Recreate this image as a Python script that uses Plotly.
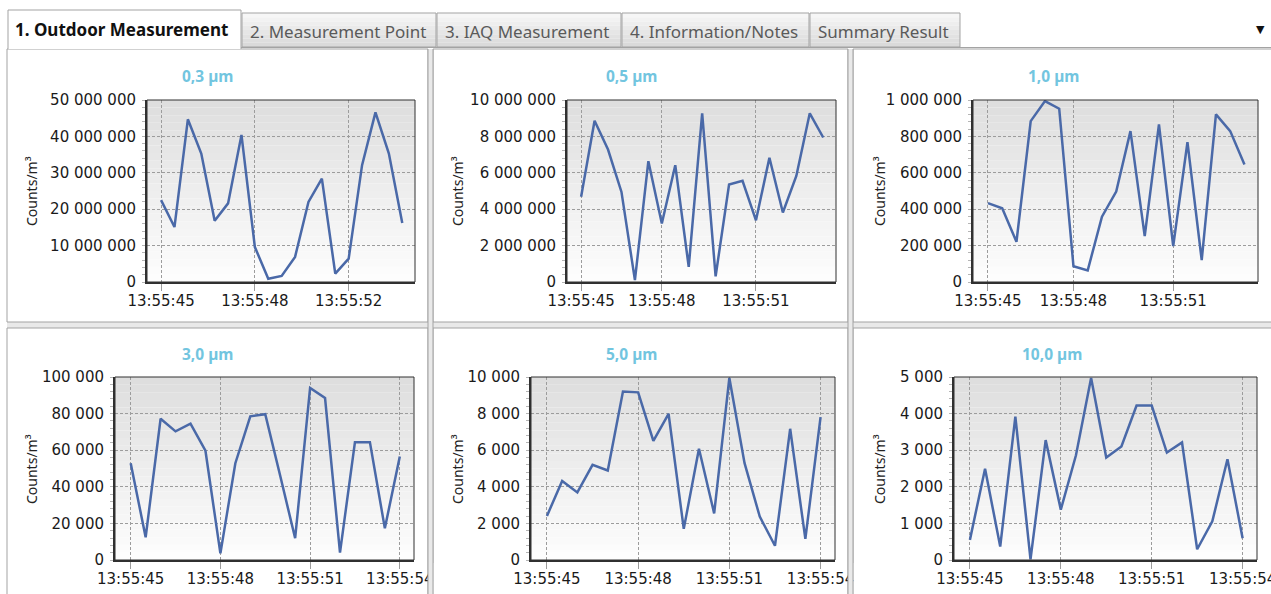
import plotly.graph_objects as go

W, H = 1271, 594

# ---------------- data ----------------
tab_labels = ["1. Outdoor Measurement", "2. Measurement Point", "3. IAQ Measurement",
              "4. Information/Notes", "Summary Result"]
panel_titles = ["0,3 µm", "0,5 µm", "1,0 µm", "3,0 µm", "5,0 µm", "10,0 µm"]
y_title = "Counts/m³"

sample_index = list(range(19))

counts_0_3 = [22500000, 15100000, 44700000, 35300000, 16800000, 21600000, 40400000,
              9600000, 900000, 1650000, 6900000, 22000000, 28400000, 2300000,
              6400000, 32100000, 46600000, 35300000, 16200000]
counts_0_5 = [4680000, 8860000, 7280000, 4950000, 100000, 6640000, 3210000,
              6420000, 830000, 9270000, 310000, 5360000, 5560000, 3390000,
              6830000, 3820000, 5830000, 9270000, 7940000]
counts_1_0 = [433000, 405000, 221000, 884000, 994000, 952000, 87000, 64000,
              359000, 497000, 829000, 252000, 866000, 197000, 768000, 120000,
              921000, 829000, 645000]
counts_3_0 = [52900, 12400, 77200, 70300, 74500, 59700, 3600, 52900, 78500,
              79700, 46000, 11900, 94000, 88500, 4000, 64400, 64400, 17300, 56600]
counts_5_0 = [2410, 4320, 3690, 5200, 4890, 9210, 9160, 6510, 7990, 1700, 6080,
              2550, 9950, 5290, 2370, 780, 7170, 1150, 7810]
counts_10_0 = [550, 2495, 367, 3917, 18, 3275, 1376, 2862, 4972, 2798, 3101,
               4220, 4220, 2936, 3211, 294, 1055, 2752, 596]

y_max = [50000000, 10000000, 1000000, 100000, 10000, 5000]
y_step = [10000000, 2000000, 200000, 20000, 2000, 1000]

tick_idx_1 = [0, 7, 14]
tick_txt_1 = ["13:55:45", "13:55:48", "13:55:52"]
tick_idx_23 = [0, 6, 13]
tick_txt_23 = ["13:55:45", "13:55:48", "13:55:51"]
tick_idx_bot = [0, 6, 12, 18]
tick_txt_bot = ["13:55:45", "13:55:48", "13:55:51", "13:55:54"]

series = [counts_0_3, counts_0_5, counts_1_0, counts_3_0, counts_5_0, counts_10_0]
tick_idx = [tick_idx_1, tick_idx_23, tick_idx_23, tick_idx_bot, tick_idx_bot, tick_idx_bot]
tick_txt = [tick_txt_1, tick_txt_23, tick_txt_23, tick_txt_bot, tick_txt_bot, tick_txt_bot]

# ---------------- layout geometry (pixels) ----------------
plot_boxes = [(147, 100, 415, 282), (567, 100, 836, 282), (973, 100, 1258, 282),
              (115, 377, 414, 560), (531, 377, 835, 560), (954, 377, 1257, 560)]
title_pos = [(207, 76), (631, 76), (1053, 76), (207, 354), (631, 354), (1052, 354)]
ytitle_pos = [(31, 191), (457, 191), (879, 191), (31, 469), (457, 469), (879, 469)]
panel_boxes = [(7, 49, 428, 322), (433, 49, 848, 322), (853, 49, 1275, 322),
               (7, 328, 428, 600), (433, 328, 848, 600), (853, 328, 1275, 600)]
tab_boxes = [(8, 10, 241, 48), (242, 13, 436, 47), (437, 13, 621, 47),
             (622, 13, 809, 47), (810, 13, 960, 47)]


def px(x):
    return x / W


def py(y):
    return 1 - y / H


BORDER = "#a3a3a3"
GAP = "#e9e9e9"
LINE = "#4a69a8"

fig = go.Figure()
shapes = []
annotations = []

# container & panels
shapes.append(dict(type="rect", xref="paper", yref="paper", layer="below",
                   x0=px(7), x1=px(1275), y0=py(49), y1=py(600),
                   fillcolor=GAP, line=dict(width=0)))
for (x0, y0, x1, y1) in panel_boxes:
    shapes.append(dict(type="rect", xref="paper", yref="paper", layer="below",
                       x0=px(x0), x1=px(x1), y0=py(y0), y1=py(y1),
                       fillcolor="white", line=dict(color=BORDER, width=1)))


def lerp(c0, c1, t):
    return "rgb(%d,%d,%d)" % tuple(round(a + (b - a) * t) for a, b in zip(c0, c1))


# tabs
for i, (x0, y0, x1, y1) in enumerate(tab_boxes):
    if i == 0:
        shapes.append(dict(type="rect", xref="paper", yref="paper", layer="below",
                           x0=px(x0), x1=px(x1), y0=py(y0), y1=py(y1 + 1),
                           fillcolor="white", line=dict(width=0)))
        shapes.append(dict(type="path", xref="paper", yref="paper", layer="below",
                           path=f"M {px(x0)},{py(y1+1)} L {px(x0)},{py(y0)} L {px(x1)},{py(y0)} L {px(x1)},{py(y1+1)}",
                           line=dict(color=BORDER, width=1)))
        annotations.append(dict(x=px(x0 + 5), y=py((y0 + y1) / 2 + 1), xref="paper", yref="paper",
                                xanchor="left", yanchor="middle", showarrow=False,
                                text="<b>" + tab_labels[i] + "</b>",
                                font=dict(family="Noto Sans", size=17, color="#111111")))
    else:
        n = 8
        for k in range(n):
            ya = y0 + (y1 - y0) * k / n
            yb = y0 + (y1 - y0) * (k + 1) / n
            shapes.append(dict(type="rect", xref="paper", yref="paper", layer="below",
                               x0=px(x0), x1=px(x1), y0=py(ya), y1=py(yb),
                               fillcolor=lerp((246, 246, 246), (218, 218, 218), k / (n - 1)),
                               line=dict(width=0)))
        shapes.append(dict(type="rect", xref="paper", yref="paper", layer="below",
                           x0=px(x0), x1=px(x1), y0=py(y0), y1=py(y1),
                           line=dict(color=BORDER, width=1)))
        annotations.append(dict(x=px(x0 + 6), y=py((y0 + y1) / 2 + 1), xref="paper", yref="paper",
                                xanchor="left", yanchor="middle", showarrow=False,
                                text=tab_labels[i],
                                font=dict(family="Noto Sans", size=17, color="#5a5a5a")))
shapes.append(dict(type="line", xref="paper", yref="paper", layer="below",
                   x0=px(241), x1=px(1275), y0=py(47.5), y1=py(47.5),
                   line=dict(color=BORDER, width=1)))
annotations.append(dict(x=px(1260), y=py(30), xref="paper", yref="paper",
                        xanchor="center", yanchor="middle",
                        showarrow=False, text="▼",
                        font=dict(family="DejaVu Sans", size=11, color="#111111")))

# subplots
for i in range(6):
    n = i + 1
    xa = "x" if n == 1 else f"x{n}"
    ya = "y" if n == 1 else f"y{n}"
    x0, y0, x1, y1 = plot_boxes[i]
    fig.add_trace(go.Scatter(x=sample_index, y=series[i], mode="lines",
                             line=dict(color=LINE, width=2.5),
                             xaxis=xa, yaxis=ya, hoverinfo="skip"))
    tickfont = dict(family="DejaVu Sans", size=15, color="#1a1a1a")
    fig.layout[f"xaxis{'' if n == 1 else n}"] = dict(
        domain=[px(x0), px(x1)], anchor=ya, range=[-1.05, 18.95],
        tickmode="array", tickvals=tick_idx[i], ticktext=tick_txt[i],
        showgrid=True, gridcolor="#9c9c9c", gridwidth=1, griddash="3px,2px",
        ticks="outside", ticklen=7, tickcolor="#9c9c9c", tickwidth=1,
        ticklabelstandoff=-3, ticklabeloverflow="allow",
        showline=True, linecolor="#303030", linewidth=2, zeroline=False,
        tickfont=tickfont, fixedrange=True, automargin=False)
    fig.layout[f"yaxis{'' if n == 1 else n}"] = dict(
        domain=[py(y1), py(y0)], anchor=xa, range=[0, y_max[i]],
        tick0=0, dtick=y_step[i], tickformat=",",
        showgrid=True, gridcolor="#9c9c9c", gridwidth=1, griddash="3px,2px",
        ticks="outside", ticklen=3, tickcolor="#b5b5b5",
        minor=dict(ticks="outside", ticklen=3, tickcolor="#b5b5b5",
                   dtick=y_step[i] / 5, showgrid=False),
        ticklabelstandoff=3,
        showline=True, linecolor="#303030", linewidth=2, zeroline=False,
        tickfont=tickfont, fixedrange=True, automargin=False)
    # gradient background
    ns = 24
    for k in range(ns):
        shapes.append(dict(type="rect", xref=f"{xa} domain", yref=f"{ya} domain", layer="below",
                           x0=0, x1=1, y0=1 - k / ns, y1=1 - (k + 1) / ns,
                           fillcolor=lerp((222, 222, 222), (253, 253, 253), k / (ns - 1)),
                           line=dict(width=0)))
    # thin frame
    shapes.append(dict(type="rect", xref=f"{xa} domain", yref=f"{ya} domain", layer="above",
                       x0=0, x1=1, y0=0, y1=1, line=dict(color="#303030", width=1)))
    tx, ty = title_pos[i]
    annotations.append(dict(x=px(tx), y=py(ty), xref="paper", yref="paper",
                            xanchor="center", yanchor="middle",
                            showarrow=False, text="<b>" + panel_titles[i] + "</b>",
                            font=dict(family="Noto Sans", size=15.5, color="#72c5df")))
    yx, yy = ytitle_pos[i]
    annotations.append(dict(x=px(yx), y=py(yy), xref="paper", yref="paper",
                            xanchor="center", yanchor="middle",
                            showarrow=False, text=y_title, textangle=-90,
                            font=dict(family="Noto Sans", size=14, color="#222222")))

# gaps drawn above (clip overflowing tick labels)
for gx0, gx1 in [(428, 433), (848, 853)]:
    shapes.append(dict(type="rect", xref="paper", yref="paper", layer="above",
                       x0=px(gx0), x1=px(gx1), y0=py(49), y1=py(600),
                       fillcolor=GAP, line=dict(width=0)))
    shapes.append(dict(type="rect", xref="paper", yref="paper", layer="above",
                       x0=px(gx1 + 0.5), x1=px(gx1 + 9), y0=py(563), y1=py(600),
                       fillcolor="white", line=dict(width=0)))
    for gx in (gx0, gx1):
        shapes.append(dict(type="line", xref="paper", yref="paper", layer="above",
                           x0=px(gx), x1=px(gx), y0=py(49), y1=py(600),
                           line=dict(color=BORDER, width=1)))

fig.update_layout(width=W, height=H,
                  margin=dict(l=0, r=0, t=0, b=0, pad=0, autoexpand=False),
                  showlegend=False, separators=". ",
                  paper_bgcolor="white", plot_bgcolor="rgba(0,0,0,0)",
                  shapes=shapes, annotations=annotations)

fig.write_html("out.html", config={"displayModeBar": False},
               post_script="document.body.style.margin='0';")
